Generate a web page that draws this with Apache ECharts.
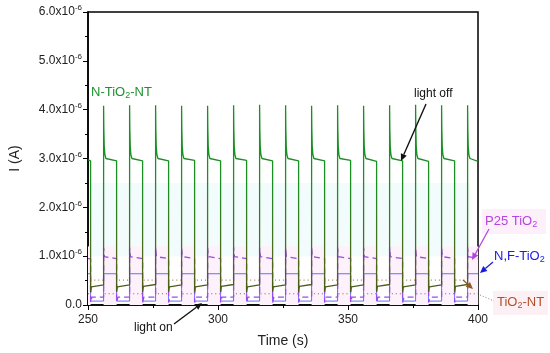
<!DOCTYPE html>
<html><head><meta charset="utf-8">
<script src="https://cdn.jsdelivr.net/npm/echarts@6/dist/echarts.min.js"></script>
<style>html,body{margin:0;padding:0;background:#fff}#c{width:550px;height:353px}</style>
</head><body><div id="c"></div>
<script>
// ---- data (current in units of 1e-6 A, time in s) ----
const xTicks = [250, 300, 350, 400];
const yTicks = [0, 1, 2, 3, 4, 5, 6];
const onTimes  = [256, 266, 276, 286, 296, 306, 316, 326, 336, 346, 356, 366, 376, 386, 396];
const offTimes = [251, 261, 271, 281, 291, 301, 311, 321, 331, 341, 351, 361, 371, 381, 391];
// N-TiO2-NT
const greenStart = [2.97, 2.95];
const greenPeak = [4.08, 4.09, 4.09, 4.08, 4.08, 4.09, 4.10, 4.09, 4.08, 4.09, 4.08, 4.09, 4.10, 4.09, 4.09];
const greenDecayDt = [0.1, 0.25, 0.5, 0.9];
const greenDecayV  = [3.6, 3.25, 3.08, 3.0];
const greenEnd  = [2.95, 2.95, 2.95, 2.96, 2.95, 2.96, 2.95, 2.95, 2.95, 2.96, 2.94, 2.95, 2.94, 2.95, 2.94];
const greenDip  = [0.26, 0.27, 0.26, 0.27, 0.26, 0.27, 0.26, 0.27, 0.26, 0.27, 0.26, 0.27, 0.26, 0.27, 0.26];
const greenDark = [0.41, 0.41, 0.42, 0.41, 0.41, 0.42, 0.41, 0.41, 0.42, 0.41, 0.41, 0.42, 0.41, 0.41, 0.42];
// P25 TiO2
const p25Peak = [1.17, 1.17, 1.18, 1.17, 1.17, 1.18, 1.17, 1.17, 1.18, 1.17, 1.17, 1.18, 1.17, 1.17, 1.18];
const p25On   = [0.95, 0.95, 0.95, 0.95, 0.95, 0.95, 0.95, 0.95, 0.95, 0.95, 0.95, 0.95, 0.95, 0.95, 0.95];
const p25Dip  = [0.05, 0.05, 0.05, 0.05, 0.05, 0.05, 0.05, 0.05, 0.05, 0.05, 0.05, 0.05, 0.05, 0.05, 0.05];
const p25Dark = [0.16, 0.16, 0.16, 0.16, 0.16, 0.16, 0.16, 0.16, 0.16, 0.16, 0.16, 0.16, 0.16, 0.16, 0.16];
// N,F-TiO2
const nfOn   = [0.64, 0.64, 0.64, 0.64, 0.64, 0.64, 0.64, 0.64, 0.64, 0.64, 0.64, 0.64, 0.64, 0.64, 0.64];
const nfDark = [0.08, 0.08, 0.08, 0.08, 0.08, 0.08, 0.08, 0.08, 0.08, 0.08, 0.08, 0.08, 0.08, 0.08, 0.08];
// TiO2-NT
const ntOn   = [0.23, 0.23, 0.23, 0.23, 0.23, 0.23, 0.23, 0.23, 0.23, 0.23, 0.23, 0.23, 0.23, 0.23, 0.23];
const ntDark = [0.51, 0.51, 0.51, 0.51, 0.51, 0.51, 0.51, 0.51, 0.51, 0.51, 0.51, 0.51, 0.51, 0.51, 0.51];

// ---- build series points ----
const X0 = xTicks[0], X1 = xTicks[xTicks.length - 1];
function endOf(i) { return i < onTimes.length - 1 ? offTimes[i + 1] : X1; }

const green = [[X0, greenStart[0]], [offTimes[0], greenStart[1]]];
for (let i = 0; i < onTimes.length; i++) {
  const toff = offTimes[i], ton = onTimes[i];
  green.push([toff, greenDip[i]], [toff + 0.3, greenDark[i] - 0.04], [toff + 0.8, greenDark[i]], [ton, greenDark[i]]);
  green.push([ton, greenPeak[i]]);
  greenDecayDt.forEach((d, k) => green.push([ton + d, greenDecayV[k]]));
  green.push([endOf(i), greenEnd[i]]);
}
const p25 = [[X0, p25On[0]], [offTimes[0], p25On[0]]];
for (let i = 0; i < onTimes.length; i++) {
  const toff = offTimes[i], ton = onTimes[i];
  p25.push([toff, p25Dip[i]], [toff + 0.5, p25Dark[i]], [ton, p25Dark[i]], [ton, p25Peak[i]], [ton + 0.3, p25On[i] + 0.04], [ton + 0.8, p25On[i]], [endOf(i), p25On[i]]);
}
const nf = [[X0, nfOn[0]], [offTimes[0], nfOn[0]]];
for (let i = 0; i < onTimes.length; i++) {
  nf.push([offTimes[i], nfDark[i]], [onTimes[i], nfDark[i]], [onTimes[i], nfOn[i]], [endOf(i), nfOn[i]]);
}
const nt = [[X0, ntOn[0]], [offTimes[0], ntOn[0]]];
for (let i = 0; i < onTimes.length; i++) {
  nt.push([offTimes[i], ntDark[i]], [onTimes[i], ntDark[i]], [onTimes[i], ntOn[i]], [endOf(i), ntOn[i]]);
}
const pinkAreas = [[{xAxis: X0, yAxis: 0}, {xAxis: offTimes[0], yAxis: 1.2}]];
onTimes.forEach((t, i) => pinkAreas.push([{xAxis: t, yAxis: 0}, {xAxis: endOf(i), yAxis: 1.2}]));

// ---- chart ----
const chart = echarts.init(document.getElementById('c'), null, {renderer: 'canvas'});
const FONT = 'Liberation Sans, Arial, sans-serif';
const G = {left: 83, right: 72, top: 12, bottom: 48};

function arrow(x1, y1, x2, y2, color, w) {
  const ang = Math.atan2(y2 - y1, x2 - x1), L = 7, H = 3.2;
  const bx = x2 - L * Math.cos(ang), by = y2 - L * Math.sin(ang);
  const px = -Math.sin(ang) * H, py = Math.cos(ang) * H;
  return [
    {type: 'line', shape: {x1, y1, x2: bx, y2: by}, style: {stroke: color, lineWidth: w}, z: 100},
    {type: 'polygon', shape: {points: [[x2, y2], [bx + px, by + py], [bx - px, by - py]]}, style: {fill: color}, z: 100}
  ];
}
function txt(x, y, text, color, size) {
  return {type: 'text', x, y, z: 101, style: {text, fill: color, font: size + 'px ' + FONT, textVerticalAlign: 'middle',
    rich: {s: {fontSize: size - 4, fill: color, padding: [8, 0, 0, 0]}}}};
}

const graphics = [
  {type: 'rect', shape: {x: 482, y: 209, width: 64, height: 25}, style: {fill: '#fdf0fa'}, z: 99},
  {type: 'rect', shape: {x: 493, y: 291, width: 55, height: 24}, style: {fill: '#fdf0f5'}, z: 99},
  txt(91, 92, 'N-TiO{s|2}-NT', '#1f9030', 13),
  txt(414, 94, 'light off', '#111', 12),
  txt(134, 328, 'light on', '#111', 12),
  txt(485, 221, 'P25 TiO{s|2}', '#b443e0', 13),
  txt(494, 256, 'N,F-TiO{s|2}', '#1a1ae0', 13),
  txt(497, 302, 'TiO{s|2}-NT', '#b0502a', 13),
  ...arrow(426, 104, 401, 161, '#111', 1.4),
  ...arrow(174, 324, 202, 303, '#111', 1.4),
  ...arrow(489, 229, 472, 260, '#b443e0', 1.2),
  ...arrow(493, 262, 480, 273, '#1a1ae0', 1.2),
  ...arrow(463, 280, 473, 289, '#8a5a20', 1.2),
  {type: 'line', shape: {x1: 480, y1: 295, x2: 494, y2: 301}, style: {stroke: '#a08070', lineWidth: 1, lineDash: [1, 2]}, z: 100}
];

chart.setOption({
  animation: false,
  backgroundColor: '#fff',
  grid: {left: G.left, right: G.right, top: G.top, bottom: G.bottom, show: true, borderColor: '#000', borderWidth: 1.5, backgroundColor: 'transparent'},
  xAxis: {
    type: 'value', min: X0, max: X1, interval: 50,
    name: 'Time (s)', nameLocation: 'middle', nameGap: 29,
    nameTextStyle: {fontSize: 14, color: '#222', fontFamily: FONT},
    axisLine: {show: true, lineStyle: {color: '#000', width: 1.5}},
    axisTick: {show: true, length: 5, lineStyle: {color: '#000', width: 1}},
    minorTick: {show: true, splitNumber: 2, length: 3, lineStyle: {color: '#000'}},
    splitLine: {show: false},
    axisLabel: {fontSize: 12, color: '#222', fontFamily: FONT, margin: 9}
  },
  yAxis: {
    type: 'value', min: yTicks[0], max: yTicks[yTicks.length - 1], interval: 1,
    name: 'I (A)', nameLocation: 'middle', nameGap: 66, nameRotate: 90,
    nameTextStyle: {fontSize: 14, color: '#222', fontFamily: FONT},
    axisLine: {show: true, lineStyle: {color: '#000', width: 1.5}},
    axisTick: {show: true, length: 5, lineStyle: {color: '#000', width: 1}},
    minorTick: {show: true, splitNumber: 2, length: 3, lineStyle: {color: '#000'}},
    splitLine: {show: false},
    axisLabel: {
      fontSize: 12, color: '#222', fontFamily: FONT, margin: 6,
      formatter: v => v === 0 ? '0.0' : '{m|' + v.toFixed(1) + 'x10}{s|-6}',
      rich: {m: {fontSize: 12, color: '#222', fontFamily: FONT}, s: {fontSize: 8, color: '#222', fontFamily: FONT, padding: [0, 0, 8, 0]}}
    }
  },
  graphic: graphics,
  series: [
    {type: 'line', name: 'bg', data: [], silent: true,
      markArea: {silent: true, itemStyle: {color: '#f2fcfc'}, data: [[{xAxis: offTimes[0], yAxis: 1.0}, {xAxis: 397, yAxis: 2.5}]]}},
    {type: 'line', name: 'bgp', data: [], silent: true,
      markArea: {silent: true, itemStyle: {color: '#fdf1fb'}, data: pinkAreas}},
    {type: 'line', name: 'TiO2-NT', data: nt, showSymbol: false, clip: true,
      lineStyle: {color: '#96602a', width: 1, type: [1, 3]}},
    {type: 'line', name: 'N,F-TiO2', data: nf, showSymbol: false, clip: true,
      lineStyle: {color: '#6b6bff', width: 1}},
    {type: 'line', name: 'P25 TiO2', data: p25, showSymbol: false, clip: true,
      lineStyle: {color: '#a048ea', width: 1.3, type: [6, 4]}},
    {type: 'line', name: 'N-TiO2-NT', data: green, showSymbol: false, clip: true,
      lineStyle: {width: 1.3, color: new echarts.graphic.LinearGradient(0, 0, 0, 1, [
        {offset: 0, color: '#1a8f22'}, {offset: 0.42, color: '#1a8f22'},
        {offset: 0.8, color: '#4e6a1c'}, {offset: 1, color: '#4a5a18'}])}}
  ]
});
</script></body></html>
